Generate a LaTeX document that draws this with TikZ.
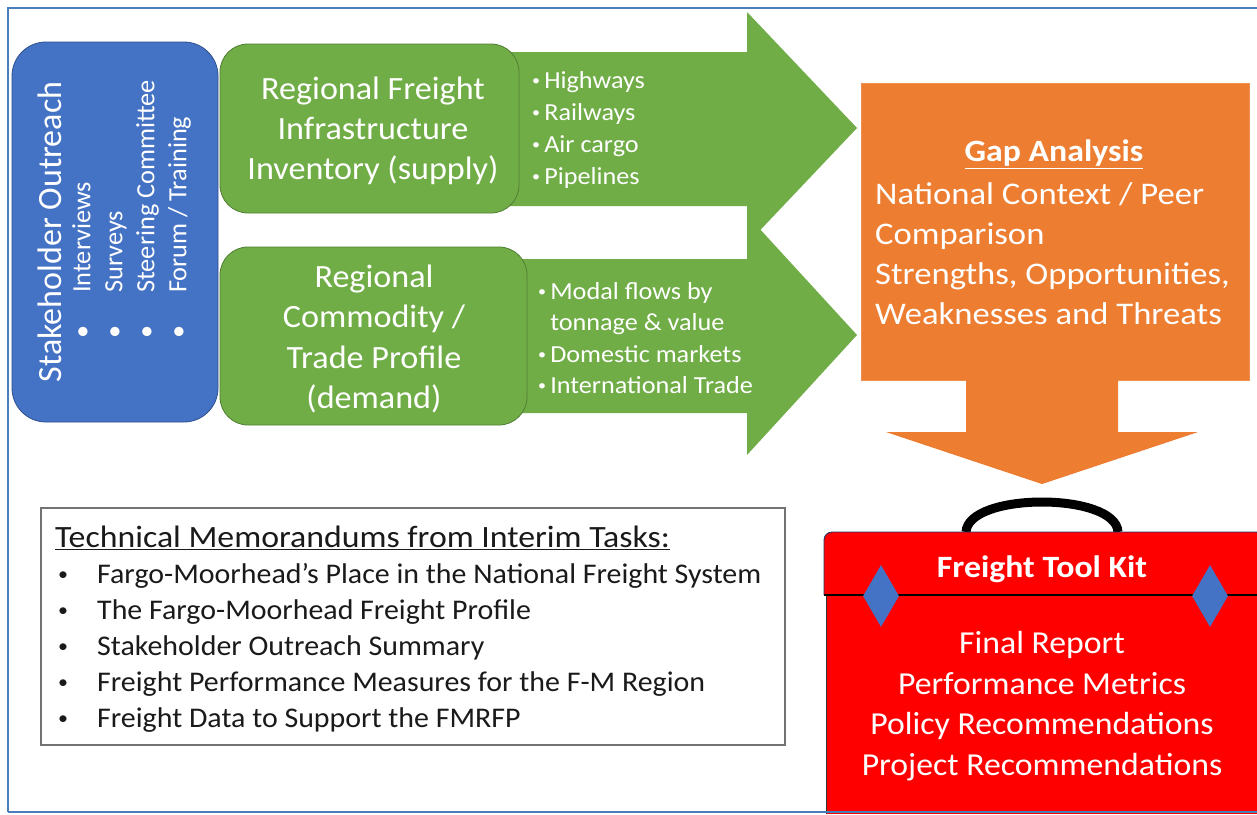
\documentclass[tikz,border=0pt]{standalone}
\usepackage{fontspec}
\setmainfont{Carlito}
\usetikzlibrary{shapes.geometric}
\definecolor{oblue}{HTML}{4472C4}
\definecolor{obluedk}{HTML}{2F528F}
\definecolor{ogreen}{HTML}{70AD47}
\definecolor{ogreendk}{HTML}{507E32}
\definecolor{oorange}{HTML}{ED7D31}
\definecolor{ored}{HTML}{FF0000}
\definecolor{framec}{HTML}{4A7EBB}
\definecolor{memotext}{HTML}{1A1A1A}
\newcommand\fsz[3]{\fontsize{#1}{#2}\selectfont\addfontfeatures{FakeStretch=#3}}
\newcommand\smbul[2]{\raisebox{#2}{\fontsize{#1}{#1}\selectfont•}}
\begin{document}
\begin{tikzpicture}[x=1pt,y=-1pt,
  box/.style={inner sep=0, outer sep=0},
  wtext/.style={text=white, inner sep=0},
  arrowfill/.style={fill=ogreen},
  diam/.style={diamond, fill=oblue, inner sep=0, minimum width=36, minimum height=62}]
\useasboundingbox (0,0) rectangle (1257,814);
\fill[white] (0,0) rectangle (1257,814);

% green arrows
\fill[arrowfill] (505,52) -- (747,52) -- (747,12) -- (857,128) -- (747,244) -- (747,206) -- (505,206) -- cycle;
\fill[arrowfill] (505,259) -- (747,259) -- (747,215) -- (857,335) -- (747,455) -- (747,413) -- (505,413) -- cycle;

% stakeholder box
\node[box, fill=oblue, draw=obluedk, line width=0.8, rounded corners=34, minimum width=206, minimum height=380] (so) at (115,232) {};
\node[wtext, rotate=90, anchor=mid, font=\fsz{34}{40}{1}] (sot) at (59,232) {Stakeholder Outreach};
\node[wtext, rotate=90, anchor=mid west, font=\fsz{26.3}{30}{1}] (s1) at (88,339) {\makebox[46pt][l]{•}Interviews};
\node[wtext, rotate=90, anchor=mid west, font=\fsz{26.3}{30}{1}] (s2) at (120,339) {\makebox[46pt][l]{•}Surveys};
\node[wtext, rotate=90, anchor=mid west, font=\fsz{26.3}{30}{1}] (s3) at (152,339) {\makebox[46pt][l]{•}Steering Committee};
\node[wtext, rotate=90, anchor=mid west, font=\fsz{26.3}{30}{1}] (s4) at (184,339) {\makebox[46pt][l]{•}Forum / Training};

% green boxes
\node[box, fill=ogreen, draw=ogreendk, line width=0.8, rounded corners=28, minimum width=299, minimum height=169] (sup) at (369.5,128.5) {};
\node[wtext, align=center, font=\fsz{32.5}{40}{1.05}] (supt) at (373,131) {Regional Freight\\Infrastructure\\Inventory (supply)};
\node[box, fill=ogreen, draw=ogreendk, line width=0.8, rounded corners=28, minimum width=307, minimum height=178] (dem) at (373.5,336) {};
\node[wtext, align=center, font=\fsz{32.5}{40.3}{1.05}] (demt) at (374,339) {Regional\\Commodity /\\Trade Profile\\(demand)};

% arrow bullet texts
\node[wtext, anchor=west, align=left, font=\fsz{24.5}{31.7}{1.07}] (supl) at (532,130) {\smbul{15}{3pt}\,Highways\\\smbul{15}{3pt}\,Railways\\\smbul{15}{3pt}\,Air cargo\\\smbul{15}{3pt}\,Pipelines};
\node[wtext, anchor=west, align=left, font=\fsz{24.5}{31.3}{1.07}] (deml) at (538,338) {\smbul{15}{3pt}\,Modal flows by\\\phantom{\smbul{15}{3pt}\,}tonnage \& value\\\smbul{15}{3pt}\,Domestic markets\\\smbul{15}{3pt}\,International Trade};

% gap analysis
\node[box, fill=oorange, draw=oorange!85!white, line width=0.8, minimum width=388, minimum height=297] (gap) at (1055,231.5) {};
\node[wtext, font=\bfseries\fsz{31}{36}{1.09}] (gapt) at (1054,154) {\underline{Gap Analysis}};
\node[wtext, anchor=west, align=left, font=\fsz{31.5}{40}{1.1}] (gapb) at (875,254) {National Context / Peer\\Comparison\\Strengths, Opportunities,\\Weaknesses and Threats};

% down arrow
\fill[oorange] (966,380) -- (1118,380) -- (1118,432) -- (1198,432) -- (1042,484) -- (886,432) -- (966,432) -- cycle;

% tool kit
\draw[line width=9, black] (966,532) .. controls (968,492) and (1116,492) .. (1118,532);
\fill[ored] (826,595) rectangle (1262,814);
\draw[black!80, line width=0.9] (826,595) -- (826,814);
\path[fill=ored, draw=obluedk!70!black, line width=0.9, rounded corners=8] (824,595) -- (824,532) -- (1264,532) -- (1264,595);
\draw[black, line width=1.6] (824,595) -- (1262,595);
\node[diam] (dl) at (881,596) {};
\node[diam] (dr) at (1210,596) {};
\node[wtext, font=\bfseries\fsz{31}{36}{1.09}] (tkt) at (1042,569) {Freight Tool Kit};
\node[wtext, align=center, font=\fsz{32}{40.7}{1.055}] (tkb) at (1042,706) {Final Report\\Performance Metrics\\Policy Recommendations\\Project Recommendations};

% memo box
\node[box, draw=black!55, line width=1.4, fill=white, minimum width=744, minimum height=237] (memo) at (413,626.5) {};
\node[anchor=west, inner sep=0, text=memotext, font=\fsz{31}{36}{1.09}] (memot) at (55,538) {\underline{Technical Memorandums from Interim Tasks:}};
\node[anchor=west, inner sep=0, align=left, text=memotext, font=\fsz{28.5}{36}{1.05}] (memol) at (58,648) {\makebox[39pt][l]{\smbul{19}{3pt}}Fargo-Moorhead’s Place in the National Freight System\\\makebox[39pt][l]{\smbul{19}{3pt}}The Fargo-Moorhead Freight Profile\\\makebox[39pt][l]{\smbul{19}{3pt}}Stakeholder Outreach Summary\\\makebox[39pt][l]{\smbul{19}{3pt}}Freight Performance Measures for the F-M Region\\\makebox[39pt][l]{\smbul{19}{3pt}}Freight Data to Support the FMRFP};

% frame
\draw[framec, line width=2] (8,812) -- (8,8) -- (1270,8);
\draw[framec, line width=2] (8,812) -- (1270,812);
\end{tikzpicture}
\end{document}
